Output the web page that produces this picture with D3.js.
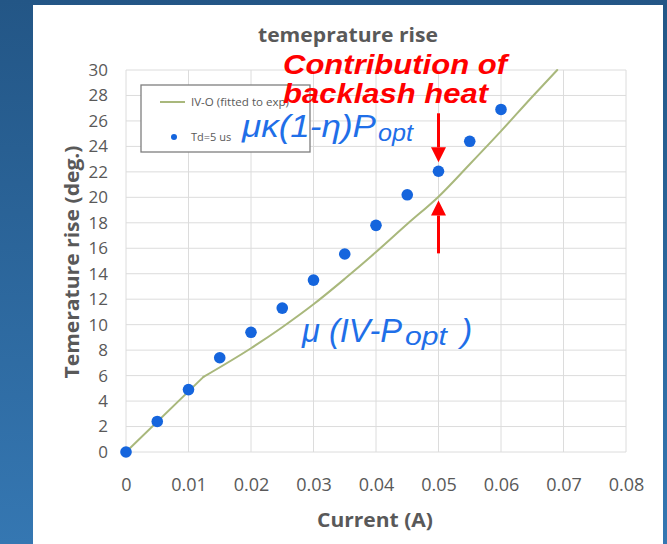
<!DOCTYPE html>
<html><head><meta charset="utf-8">
<script src="https://cdn.jsdelivr.net/npm/d3@7"></script>
<style>html,body{margin:0;padding:0;background:#245a8a;}svg{display:block;}</style>
</head><body>
<svg id="c" width="667" height="544"></svg>
<script>
// ---- data ----
const xTicks = [0, 0.01, 0.02, 0.03, 0.04, 0.05, 0.06, 0.07, 0.08];
const yTicks = [0, 2, 4, 6, 8, 10, 12, 14, 16, 18, 20, 22, 24, 26, 28, 30];
const measCurrent = [0, 0.005, 0.01, 0.015, 0.02, 0.025, 0.03, 0.035, 0.04, 0.045, 0.05, 0.055, 0.06];
const measTemp    = [0, 2.4, 4.9, 7.4, 9.4, 11.3, 13.5, 15.55, 17.8, 20.2, 22.05, 24.4, 26.9];
const fitCurrent  = [0, 0.0124, 0.02, 0.025, 0.03, 0.035, 0.04, 0.045, 0.05, 0.055, 0.06, 0.065, 0.069];
const fitTemp     = [0, 5.9, 8.15, 9.8, 11.6, 13.6, 15.7, 17.9, 20.05, 22.6, 25.2, 27.9, 30.0];
const seriesNames = ["IV-O (fitted to exp)", "Td=5 us"];

const svg = d3.select("#c");
// background
const defs = svg.append("defs");
const g1 = defs.append("linearGradient").attr("id","bg").attr("x1","0").attr("y1","0").attr("x2","0").attr("y2","1");
g1.append("stop").attr("offset","0").attr("stop-color","#235686");
g1.append("stop").attr("offset","1").attr("stop-color","#3577b2");
svg.append("rect").attr("width",667).attr("height",544).attr("fill","url(#bg)");
svg.append("rect").attr("x",33).attr("y",5).attr("width",630).attr("height",539).attr("fill","#ffffff");

const x = d3.scaleLinear().domain([0, 0.08]).range([126, 626]);
const y = d3.scaleLinear().domain([0, 30]).range([452, 70]);

const gray = "#595959";
const font = "'Open Sans', 'Noto Sans', sans-serif";

// grid
svg.append("g").selectAll("line").data(yTicks).join("line")
  .attr("x1", x(0)).attr("x2", x(0.08)).attr("y1", d=>y(d)).attr("y2", d=>y(d))
  .attr("stroke","#dcdcdc").attr("stroke-width",1);
svg.append("g").selectAll("line").data(xTicks).join("line")
  .attr("y1", y(0)).attr("y2", y(30)).attr("x1", d=>x(d)).attr("x2", d=>x(d))
  .attr("stroke","#dcdcdc").attr("stroke-width",1);

// axes (labels only)
const xAxis = svg.append("g").attr("transform",`translate(0,${y(0)})`)
  .call(d3.axisBottom(x).tickValues(xTicks).tickFormat(d=>String(+d.toFixed(2))).tickSize(0).tickPadding(26));
xAxis.select(".domain").remove();
xAxis.selectAll("text").attr("fill",gray).attr("font-size",18).attr("font-family",font);
const yAxis = svg.append("g").attr("transform",`translate(${x(0)},0)`)
  .call(d3.axisLeft(y).tickValues(yTicks).tickFormat(d3.format("d")).tickSize(0).tickPadding(18));
yAxis.select(".domain").remove();
yAxis.selectAll("text").attr("fill",gray).attr("font-size",17).attr("font-family",font);

// titles
svg.append("text").attr("x",348).attr("y",42).attr("text-anchor","middle")
  .attr("fill",gray).attr("font-size",19).attr("font-weight","bold").attr("font-family",font)
  .attr("textLength",180).attr("lengthAdjust","spacingAndGlyphs").text("temeprature rise");
svg.append("text").attr("x",375).attr("y",527).attr("text-anchor","middle")
  .attr("fill",gray).attr("font-size",20).attr("font-weight","bold").attr("font-family",font)
  .attr("textLength",116).attr("lengthAdjust","spacingAndGlyphs").text("Current (A)");
svg.append("text").attr("transform","translate(79,262) rotate(-90)").attr("text-anchor","middle")
  .attr("fill",gray).attr("font-size",19.5).attr("font-weight","bold").attr("font-family",font)
  .attr("textLength",233).attr("lengthAdjust","spacingAndGlyphs").text("Temerature rise (deg.)");

// fitted line: straight initial segment then smooth
const fitPts = fitCurrent.map((c,i)=>[c, fitTemp[i]]);
const lineLin = d3.line().x(d=>x(d[0])).y(d=>y(d[1]));
const lineSm = d3.line().x(d=>x(d[0])).y(d=>y(d[1])).curve(d3.curveMonotoneX);
svg.append("path").datum(fitPts.slice(0,2)).attr("d", lineLin)
  .attr("fill","none").attr("stroke","#a9b87c").attr("stroke-width",2).attr("stroke-linecap","round");
svg.append("path").datum(fitPts.slice(1)).attr("d", lineSm)
  .attr("fill","none").attr("stroke","#a9b87c").attr("stroke-width",2).attr("stroke-linecap","round");

// points
svg.append("g").selectAll("circle").data(measCurrent.map((c,i)=>[c, measTemp[i]])).join("circle")
  .attr("cx", d=>x(d[0])).attr("cy", d=>y(d[1])).attr("r",5.8).attr("fill","#1565dd");

// legend
const lg = svg.append("g");
lg.append("rect").attr("x",141).attr("y",85).attr("width",169).attr("height",67)
  .attr("fill","#fff").attr("stroke","#7f7f7f").attr("stroke-width",1.3);
lg.append("line").attr("x1",160).attr("x2",185).attr("y1",102).attr("y2",102).attr("stroke","#a9b87c").attr("stroke-width",2);
lg.append("text").attr("x",191).attr("y",106).attr("font-size",11).attr("fill",gray).attr("font-family",font)
  .attr("textLength",98).attr("lengthAdjust","spacingAndGlyphs").text(seriesNames[0]);
lg.append("circle").attr("cx",174).attr("cy",137).attr("r",3).attr("fill","#1565dd");
lg.append("text").attr("x",191).attr("y",141).attr("font-size",11).attr("fill",gray).attr("font-family",font).text(seriesNames[1]);

// red annotation text
const redFont = "'Liberation Sans', Arial, sans-serif";
svg.append("text").attr("x",283).attr("y",74).attr("fill","#ff0000").attr("font-size",28)
  .attr("font-weight","bold").attr("font-style","italic").attr("font-family",redFont)
  .attr("textLength",224).attr("lengthAdjust","spacingAndGlyphs").text("Contribution of");
svg.append("text").attr("x",283).attr("y",103).attr("fill","#ff0000").attr("font-size",28)
  .attr("font-weight","bold").attr("font-style","italic").attr("font-family",redFont)
  .attr("textLength",205).attr("lengthAdjust","spacingAndGlyphs").text("backlash heat");

// arrows
function arrow(xv, yFrom, yTo){
  const x0 = x(xv), y0 = y(yFrom), y1 = y(yTo);
  const dir = Math.sign(y1 - y0);
  const head = 15;
  svg.append("line").attr("x1",x0).attr("x2",x0).attr("y1",y0).attr("y2",y1 - dir*head)
    .attr("stroke","#ff0000").attr("stroke-width",3);
  svg.append("path").attr("d",`M${x0-7.5},${y1-dir*head} L${x0+7.5},${y1-dir*head} L${x0},${y1} Z`).attr("fill","#ff0000");
}
arrow(0.05, 26.6, 22.75);
arrow(0.05, 15.6, 19.75);

// blue formulas
const blue = "#1f6fe8";
const mFont = "'Liberation Sans', Arial, sans-serif";
const f1 = svg.append("text").attr("x",242).attr("y",137).attr("fill",blue).attr("font-size",31)
  .attr("font-style","italic").attr("font-family",mFont);
f1.append("tspan").text("μκ(1-η)P").attr("textLength",134).attr("lengthAdjust","spacingAndGlyphs");
f1.append("tspan").attr("x",378).attr("dy",4).attr("font-size",24)
  .attr("textLength",35).attr("lengthAdjust","spacingAndGlyphs").text("opt");

const f2 = svg.append("text").attr("x",302).attr("y",342).attr("fill",blue).attr("font-size",34)
  .attr("font-style","italic").attr("font-family",mFont);
f2.append("tspan").text("μ (IV-P").attr("textLength",100).attr("lengthAdjust","spacingAndGlyphs");
f2.append("tspan").attr("x",405).attr("dy",3).attr("font-size",25)
  .attr("textLength",42).attr("lengthAdjust","spacingAndGlyphs").text("opt");
f2.append("tspan").attr("x",461).attr("dy",-3).text(")");
</script>
</body></html>
